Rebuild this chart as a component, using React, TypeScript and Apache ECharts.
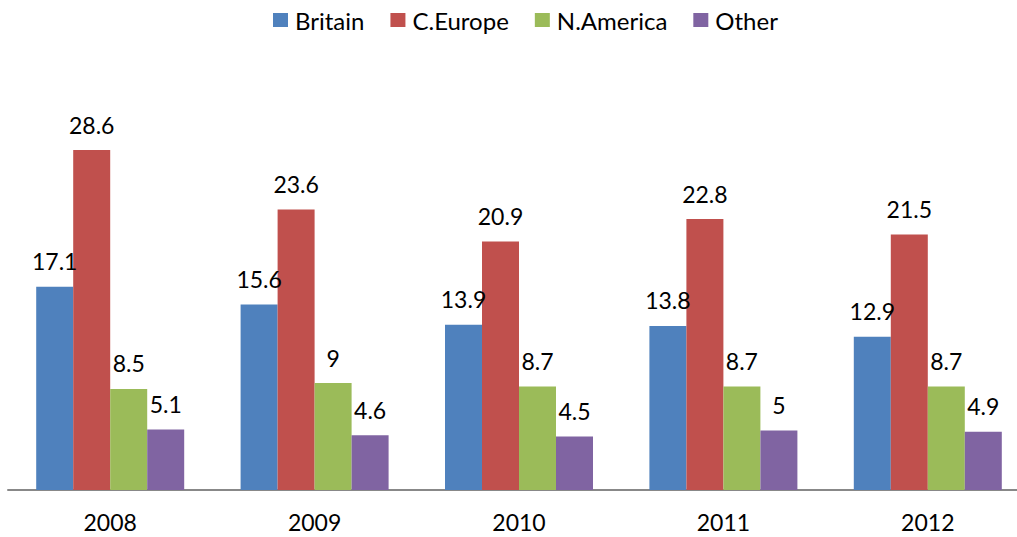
import React, { useEffect, useRef } from "react";
import * as echarts from "echarts";

const years = ["2008", "2009", "2010", "2011", "2012"];
const britain = [17.1, 15.6, 13.9, 13.8, 12.9];
const cEurope = [28.6, 23.6, 20.9, 22.8, 21.5];
const nAmerica = [8.5, 9, 8.7, 8.7, 8.7];
const other = [5.1, 4.6, 4.5, 5, 4.9];

const seriesNames = ["Britain", "C.Europe", "N.America", "Other"];
const seriesData = [britain, cEurope, nAmerica, other];
const colors = ["#4F81BD", "#C0504D", "#9BBB59", "#8064A2"];

const FONT = "Lato, 'Open Sans', sans-serif";

export default function App() {
  const ref = useRef<HTMLDivElement>(null);
  useEffect(() => {
    document.body.style.margin = "0";
    const chart = echarts.init(ref.current!, null, { renderer: "svg" });
    chart.setOption({
      animation: false,
      color: colors,
      textStyle: { fontFamily: FONT },
      legend: {
        top: 3,
        left: 268,
        itemWidth: 15,
        itemHeight: 14,
        itemGap: 26,
        icon: "rect",
        textStyle: { fontFamily: FONT, fontSize: 24, color: "#000", padding: [0, 0, 0, 2] },
        data: seriesNames,
      },
      grid: {
        left: 8,
        width: 1022,
        top: 74,
        bottom: 47,
        containLabel: false,
        outerBoundsMode: "none",
      },
      xAxis: {
        type: "category",
        data: years,
        axisLine: { show: true, lineStyle: { color: "#888888", width: 2 } },
        axisTick: { show: false },
        axisLabel: { fontFamily: FONT, fontSize: 23, color: "#000", margin: 20 },
      },
      yAxis: {
        type: "value",
        min: 0,
        max: 35,
        show: false,
        splitLine: { show: false },
      },
      series: seriesNames.map((name, i) => ({
        name,
        type: "bar",
        data: seriesData[i],
        barWidth: 37,
        barGap: "0%",
        itemStyle: { color: colors[i] },
        label: {
          show: true,
          position: "top",
          distance: 14,
          fontFamily: FONT,
          fontSize: 23,
          color: "#000",
        },
      })),
    });
    return () => chart.dispose();
  }, []);
  return <div ref={ref} style={{ width: 1017, height: 537 }} />;
}
